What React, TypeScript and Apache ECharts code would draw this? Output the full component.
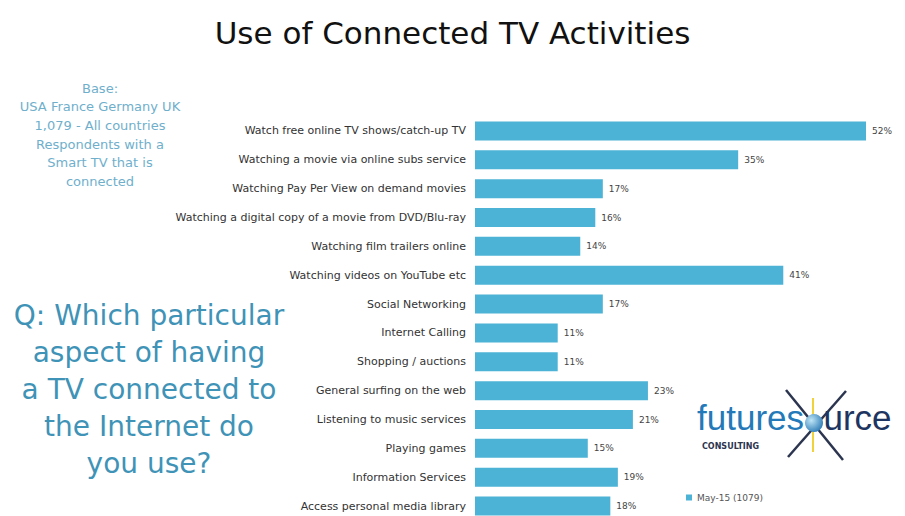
import React, { useEffect, useRef } from "react";
import * as echarts from "echarts";

const categories = [
  "Watch free online TV shows/catch-up TV",
  "Watching a movie via online subs service",
  "Watching Pay Per View on demand movies",
  "Watching a digital copy of a movie from DVD/Blu-ray",
  "Watching film trailers online",
  "Watching videos on YouTube etc",
  "Social Networking",
  "Internet Calling",
  "Shopping / auctions",
  "General surfing on the web",
  "Listening to music services",
  "Playing games",
  "Information Services",
  "Access personal media library",
];
const values = [52, 35, 17, 16, 14, 41, 17, 11, 11, 23, 21, 15, 19, 18];
const seriesName = "May-15 (1079)";
const titleText = "Use of Connected TV Activities";
const baseLines = [
  "Base:",
  "USA France Germany UK",
  "1,079 - All countries",
  "Respondents with a",
  "Smart TV that is",
  "connected",
];
const questionLines = [
  "Q: Which particular",
  "aspect of having",
  "a TV connected to",
  "the Internet do",
  "you use?",
];

const BAR = "#4db3d6";

export default function App() {
  const ref = useRef<HTMLDivElement>(null);
  useEffect(() => {
    if (!ref.current) return;
    const chart = echarts.init(ref.current, null, { renderer: "svg" });
    const graphics: any[] = [];
    baseLines.forEach((t, i) => {
      graphics.push({
        type: "text",
        x: 100,
        y: 88 + i * 18.7,
        style: {
          text: t,
          fill: "#6fafcc",
          font: "13px 'DejaVu Sans'",
          align: "center",
          verticalAlign: "middle",
        },
      });
    });
    questionLines.forEach((t, i) => {
      graphics.push({
        type: "text",
        x: 149,
        y: 315 + i * 37,
        style: {
          text: t,
          fill: "#3f93b7",
          font: "28px 'DejaVu Sans'",
          align: "center",
          verticalAlign: "middle",
        },
      });
    });
    // logo
    graphics.push(
      { type: "line", shape: { x1: 786, y1: 390, x2: 843, y2: 460 }, style: { stroke: "#2b3550", lineWidth: 2.5 } },
      { type: "line", shape: { x1: 846, y1: 391, x2: 788, y2: 457 }, style: { stroke: "#2b3550", lineWidth: 2.5 } },
      { type: "line", shape: { x1: 813, y1: 398, x2: 813, y2: 452 }, style: { stroke: "#f2d23a", lineWidth: 2 } },
      {
        type: "text",
        x: 697,
        y: 435,
        style: {
          text: "{a|futures}{b|o}{c|urce}",
          verticalAlign: "bottom",
          rich: {
            a: { fill: "#2479b8", font: "35px 'Liberation Sans'" },
            b: { fill: "rgba(0,0,0,0)", font: "35px 'Liberation Sans'" },
            c: { fill: "#1d3560", font: "35px 'Liberation Sans'" },
          },
        },
      },
      {
        type: "circle",
        shape: { cx: 814, cy: 423, r: 9 },
        style: {
          fill: new echarts.graphic.RadialGradient(0.35, 0.35, 0.8, [
            { offset: 0, color: "#bfe6f7" },
            { offset: 1, color: "#1d6fae" },
          ]),
        },
      },
      {
        type: "text",
        x: 702,
        y: 446,
        style: {
          text: "CONSULTING",
          fill: "#2b3550",
          font: "bold 8px 'DejaVu Sans'",
          verticalAlign: "middle",
        },
      }
    );

    chart.setOption({
      animation: false,
      backgroundColor: "#ffffff",
      title: {
        text: titleText,
        left: "center",
        top: 12,
        textStyle: {
          fontFamily: "DejaVu Sans",
          fontWeight: "normal",
          fontSize: 31,
          color: "#111",
        },
      },
      legend: {
        data: [seriesName],
        left: 681,
        top: 488,
        itemWidth: 6,
        itemHeight: 6,
        itemGap: 4,
        icon: "rect",
        textStyle: { fontSize: 9, color: "#555", fontFamily: "DejaVu Sans" },
      },
      grid: {
        left: 475,
        top: 116.5,
        width: 391,
        height: 404,
        containLabel: false,
      },
      xAxis: {
        type: "value",
        min: 0,
        max: 52,
        show: false,
      },
      yAxis: {
        type: "category",
        data: categories,
        inverse: true,
        axisLine: { show: false },
        axisTick: { show: false },
        axisLabel: {
          margin: 9,
          fontSize: 11,
          color: "#333",
          fontFamily: "DejaVu Sans",
        },
      },
      series: [
        {
          name: seriesName,
          type: "bar",
          data: values,
          barWidth: 19,
          itemStyle: { color: BAR },
          label: {
            show: true,
            position: "right",
            distance: 6,
            formatter: "{c}%",
            fontSize: 9,
            color: "#444",
            fontFamily: "DejaVu Sans",
          },
        },
      ],
      graphic: graphics,
    });
    return () => chart.dispose();
  }, []);
  return (
    <div
      ref={ref}
      style={{ position: "fixed", left: 0, top: 0, width: 905, height: 540 }}
    />
  );
}
